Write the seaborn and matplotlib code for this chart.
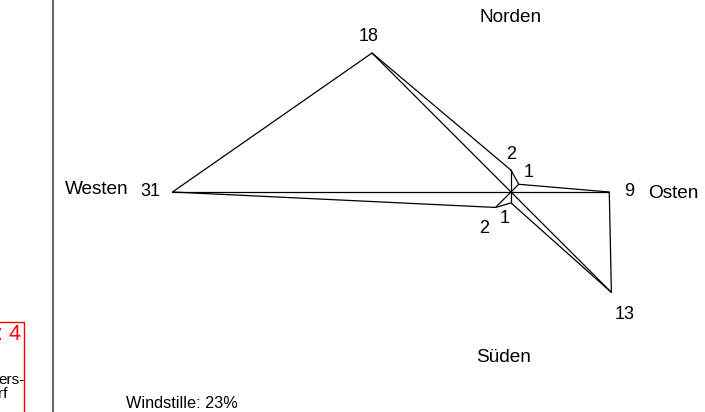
import numpy as np
import pandas as pd
import matplotlib
matplotlib.use("Agg")
import matplotlib.pyplot as plt
import seaborn as sns
from matplotlib.patches import Rectangle

# ---- data ----
directions = ["N", "NO", "O", "SO", "S", "SW", "W", "NW"]
angles_deg = [90, 45, 0, -45, -90, -135, 180, 135]
frequencies = [2, 1, 9, 13, 1, 2, 31, 18]
direction_names = ["Norden", "Osten", "Süden", "Westen"]
calm_text = "Windstille: 23%"

sns.set_theme(style="white")
plt.rcParams['font.family'] = ['Liberation Sans', 'DejaVu Sans']

W, H = 705, 412
fig = plt.figure(figsize=(W / 100, H / 100), dpi=100)
ax = fig.add_axes([0, 0, 1, 1])
ax.set_axis_off()

scale = 10.92  # px per unit
cx, cy = 511, 192
ax.set_xlim(-cx / scale, (W - cx) / scale)
ax.set_ylim(-(H - cy) / scale, cy / scale)

ang = np.deg2rad(angles_deg)
xs = np.array(frequencies) * np.cos(ang)
ys = np.array(frequencies) * np.sin(ang)

poly = pd.DataFrame({"x": list(xs) + [xs[0]], "y": list(ys) + [ys[0]],
                     "order": range(len(xs) + 1)})
sns.lineplot(data=poly, x="x", y="y", sort=False, estimator=None,
             color="black", lw=0.9, ax=ax)

spk = []
for i, d in enumerate(directions):
    spk.append({"x": 0.0, "y": 0.0, "u": d})
    spk.append({"x": xs[i], "y": ys[i], "u": d})
spk = pd.DataFrame(spk)
sns.lineplot(data=spk, x="x", y="y", units="u", sort=False, estimator=None,
             color="black", lw=0.9, ax=ax)

# value labels (pixel offsets)
offsets = {"N": (0, 16), "NO": (10, 12), "O": (20, 0), "SO": (13, -22),
           "S": (-6, -16), "SW": (-11, -21), "W": (-22, 0), "NW": (-3, 17)}
for i, d in enumerate(directions):
    dx, dy = offsets[d]
    ax.annotate(str(frequencies[i]), (xs[i], ys[i]), xytext=(dx * 0.72, dy * 0.72),
                textcoords="offset points", ha="center", va="center",
                fontsize=13, color="black")

def px(x, y):
    return ((x - cx) / scale, (cy - y) / scale)

for name, (x, y) in zip(direction_names, [(511, 18), (673, 193), (504, 358), (97, 190)]):
    ax.text(*px(x, y), name, ha="center", va="center", fontsize=13.7, color="black")

ax.text(*px(126, 403), calm_text, ha="left", va="center", fontsize=11.7, color="black")

# left separator and clipped neighbouring box
ax.plot(*zip(px(52.5, 0), px(52.5, H)), color="#555555", lw=1.3)
r0 = px(-20, 322)
r1 = px(24, 430)
ax.add_patch(Rectangle((r0[0], r1[1]), r1[0] - r0[0], r0[1] - r1[1],
                       fill=False, edgecolor="red", lw=1.0, clip_on=True))
ax.text(*px(21, 334), ": 4", ha="right", va="center", fontsize=15.5, color="red")
ax.text(*px(-2, 380), "ers-", ha="left", va="center", fontsize=11, color="black")
ax.text(*px(-2, 394), "rf", ha="left", va="center", fontsize=11, color="black")

fig.savefig("out.png", dpi=100)
